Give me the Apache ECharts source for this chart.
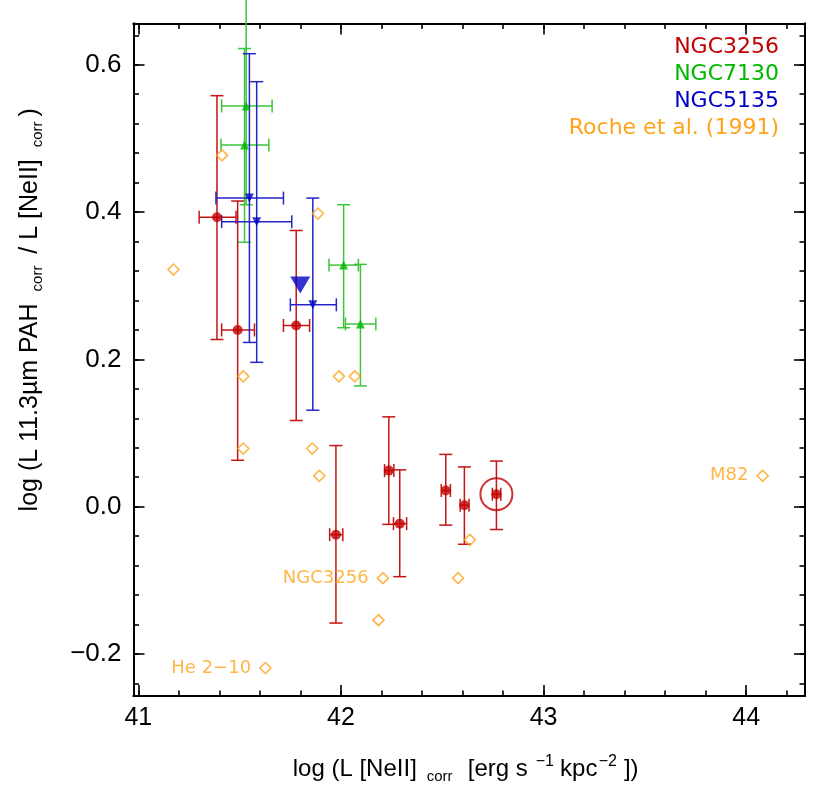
<!DOCTYPE html>
<html><head><meta charset="utf-8">
<script src="https://cdn.jsdelivr.net/npm/echarts@6/dist/echarts.min.js"></script>
<style>html,body{margin:0;padding:0;background:#fff}#c{width:830px;height:792px}</style>
</head><body><div id="c"></div>
<script>
// ---- data: [x, y, xLow, xHigh, yLow, yHigh] ----
const ngc3256 = [
 [41.388, 0.393, 41.300, 41.482, 0.227, 0.558],
 [41.490, 0.240, 41.411, 41.573, 0.063, 0.415],
 [41.779, 0.246, 41.716, 41.845, 0.117, 0.375],
 [41.975, -0.038, 41.944, 42.009, -0.158, 0.083],
 [42.236, 0.049, 42.215, 42.261, -0.024, 0.122],
 [42.290, -0.023, 42.259, 42.324, -0.095, 0.050],
 [42.517, 0.022, 42.495, 42.540, -0.025, 0.071],
 [42.609, 0.002, 42.588, 42.632, -0.051, 0.054],
 [42.767, 0.017, 42.747, 42.789, -0.031, 0.062]
];
const ngc3256Nucleus = [[42.767, 0.017]];
const ngc7130 = [
 [41.532, 0.544, 41.411, 41.660, 0.410, 0.690],
 [41.524, 0.491, 41.408, 41.644, 0.359, 0.622],
 [42.013, 0.328, 41.941, 42.086, 0.243, 0.410],
 [42.096, 0.248, 42.022, 42.172, 0.164, 0.329]
];
const ngc5135 = [
 [41.548, 0.419, 41.383, 41.716, 0.223, 0.615],
 [41.584, 0.387, 41.411, 41.757, 0.196, 0.577],
 [41.861, 0.274, 41.750, 41.977, 0.131, 0.419]
];
const ngc5135Total = [[41.799, 0.301]];
const rocheX = [41.173, 41.413, 41.518, 41.518, 41.886, 41.990, 42.068, 41.858, 41.893, 42.207, 42.185, 42.578, 42.636, 44.081, 41.627];
const rocheY = [0.322, 0.477, 0.177, 0.079, 0.398, 0.177, 0.177, 0.079, 0.042, -0.097, -0.154, -0.097, -0.045, 0.042, -0.219];
const rocheNames = ['', '', '', '', '', '', '', '', '', 'NGC3256', '', '', '', 'M82', 'He 2\u221210'];
const xMajorTicks = [41, 42, 43, 44];
const yMajorTicks = [-0.2, 0.0, 0.2, 0.4, 0.6];
const yTickLabels = ['\u22120.2', '0.0', '0.2', '0.4', '0.6'];

const X_MIN = 40.976, X_MAX = 44.290, Y_MIN = -0.257, Y_MAX = 0.656;
const xMinorTicks = []; for (let i = 0; i <= 16; i++) xMinorTicks.push(+(41 + 0.2 * i).toFixed(2));
const yMinorTicks = []; for (let i = 0; i <= 22; i++) yMinorTicks.push(+(-0.24 + 0.04 * i).toFixed(2));

const RED = '#c20000', GREEN = '#00b800', BLUE = '#0000c4', ORANGE = '#ffa31a';
const FONT = 'Liberation Sans';

function axisDef(pos, min, max, values, len, withLabels, fmt) {
  return {
    type: 'value', position: pos, min: min, max: max,
    axisLine: {show: true, onZero: false, lineStyle: {color: '#000', width: 2}},
    axisTick: {show: true, inside: true, length: len, customValues: values, lineStyle: {color: '#000', width: 1.6}},
    axisLabel: {show: withLabels, customValues: values, margin: 12, color: '#000', fontSize: 26, fontFamily: FONT,
      formatter: fmt},
    splitLine: {show: false}, minorTick: {show: false}
  };
}

const xFmt = v => String(Math.round(v));
const yFmt = v => { const i = yMajorTicks.findIndex(t => Math.abs(t - v) < 1e-6); return i >= 0 ? yTickLabels[i] : ''; };

const xAxes = [
  axisDef('bottom', X_MIN, X_MAX, xMajorTicks, 11, true, xFmt),
  axisDef('top', X_MIN, X_MAX, xMajorTicks, 11, false, xFmt),
  axisDef('bottom', X_MIN, X_MAX, xMinorTicks, 5.5, false, xFmt),
  axisDef('top', X_MIN, X_MAX, xMinorTicks, 5.5, false, xFmt)
];
xAxes[0].axisLabel.margin = 10;
xAxes[0].axisLabel.fontSize = 25;
xAxes[0].name = '{a|log (L [NeII]}{sub|corr}{b|[erg s}{sup|\u22121}{c|kpc}{sup2|\u22122}{d|])}';
xAxes[0].nameLocation = 'middle';
xAxes[0].nameGap = 58;
const base = {fontSize: 24, fontFamily: FONT, color: '#000', lineHeight: 30, align: 'left', verticalAlign: 'middle'};
const subS = {fontSize: 15, fontFamily: FONT, color: '#000', verticalAlign: 'bottom', lineHeight: 15, align: 'left'};
const supS = {fontSize: 16, fontFamily: FONT, color: '#000', verticalAlign: 'top', lineHeight: 16, align: 'left'};
xAxes[0].nameTextStyle = {fontSize: 24, fontFamily: FONT, color: '#000', lineHeight: 30, rich: {
  a: Object.assign({}, base, {width: 134}),
  sub: Object.assign({}, subS, {width: 38}),
  b: Object.assign({}, base, {width: 66, align: 'right'}),
  sup: Object.assign({}, supS, {width: 28}),
  c: Object.assign({}, base, {width: 40, align: 'right'}),
  sup2: Object.assign({}, supS, {width: 18}),
  d: Object.assign({}, base, {width: 29})
}};

const yAxes = [
  axisDef('left', Y_MIN, Y_MAX, yMajorTicks, 11, true, yFmt),
  axisDef('right', Y_MIN, Y_MAX, yMajorTicks, 11, false, yFmt),
  axisDef('left', Y_MIN, Y_MAX, yMinorTicks, 5.5, false, yFmt),
  axisDef('right', Y_MIN, Y_MAX, yMinorTicks, 5.5, false, yFmt)
];
yAxes[0].name = 'log (L 11.3\u00b5m PAH {sub|corr} / L [NeII] {sub|corr})';
yAxes[0].nameLocation = 'middle';
yAxes[0].nameRotate = 90;
yAxes[0].nameGap = 88;
yAxes[0].nameTextStyle = {fontSize: 25, fontFamily: FONT, color: '#000', lineHeight: 30, padding: [0, 0, 0, 100], rich: {
  sub: {fontSize: 15, fontFamily: FONT, color: '#000', verticalAlign: 'bottom', lineHeight: 15, padding: [0, 5, 0, 5]}
}};

function errRender(color, cap) {
  return function (params, api) {
    const x = api.value(0), y = api.value(1);
    const pYlo = api.coord([x, api.value(4)]), pYhi = api.coord([x, api.value(5)]);
    const pXlo = api.coord([api.value(2), y]), pXhi = api.coord([api.value(3), y]);
    const st = {stroke: color, lineWidth: 1.5, fill: null};
    const L = (x1, y1, x2, y2) => ({type: 'line', shape: {x1, y1, x2, y2}, style: st});
    return {type: 'group', children: [
      L(pYlo[0], pYlo[1], pYhi[0], pYhi[1]),
      L(pYlo[0] - cap, pYlo[1], pYlo[0] + cap, pYlo[1]),
      L(pYhi[0] - cap, pYhi[1], pYhi[0] + cap, pYhi[1]),
      L(pXlo[0], pXlo[1], pXhi[0], pXhi[1]),
      L(pXlo[0], pXlo[1] - cap, pXlo[0], pXlo[1] + cap),
      L(pXhi[0], pXhi[1] - cap, pXhi[0], pXhi[1] + cap)
    ]};
  };
}

const rocheData = rocheX.map((x, i) => ({value: [x, rocheY[i]], name: rocheNames[i]}));

const chart = echarts.init(document.getElementById('c'), null, {renderer: 'canvas'});
chart.setOption({
  animation: false,
  backgroundColor: '#fff',
  grid: {left: 133.5, right: 25, top: 23.5, bottom: 96, containLabel: false, outerBoundsMode: 'none'},
  xAxis: xAxes,
  yAxis: yAxes,
  legend: {
    orient: 'vertical', right: 46, top: 36, align: 'right', icon: 'none', itemWidth: 0, itemHeight: 22, itemGap: 5,
    padding: 0, selectedMode: false,
    textStyle: {fontSize: 22, fontFamily: 'DejaVu Sans', lineHeight: 22},
    data: [
      {name: 'NGC3256', textStyle: {color: RED}},
      {name: 'NGC7130', textStyle: {color: GREEN}},
      {name: 'NGC5135', textStyle: {color: BLUE}},
      {name: 'Roche et al. (1991)', textStyle: {color: ORANGE}}
    ]
  },
  series: [
    {name: 'NGC3256', type: 'custom', renderItem: errRender('#c41414', 6.5), data: ngc3256, clip: false, z: 2,
      encode: {x: 0, y: 1}},
    {name: 'NGC7130', type: 'custom', renderItem: errRender('#3cc43c', 6.5), data: ngc7130, clip: false, z: 2,
      encode: {x: 0, y: 1}},
    {name: 'NGC5135', type: 'custom', renderItem: errRender('#2424c8', 6.5), data: ngc5135, clip: false, z: 2,
      encode: {x: 0, y: 1}},
    {name: 'Roche et al. (1991)', type: 'scatter', data: rocheData, symbol: 'diamond', symbolSize: 11, z: 3,
      itemStyle: {color: 'transparent', borderColor: ORANGE, borderWidth: 1.6},
      label: {show: true, position: 'left', distance: 8, formatter: '{b}', color: ORANGE, fontSize: 18, fontFamily: 'DejaVu Sans'}},
    {name: 'NGC3256', type: 'scatter', data: ngc3256.map(d => [d[0], d[1]]), symbol: 'circle', symbolSize: 10, z: 4,
      itemStyle: {color: RED}},
    {name: 'NGC3256', type: 'scatter', data: ngc3256Nucleus, symbol: 'circle', symbolSize: 32, z: 4,
      itemStyle: {color: 'transparent', borderColor: RED, borderWidth: 2}},
    {name: 'NGC7130', type: 'scatter', data: ngc7130.map(d => [d[0], d[1]]), symbol: 'triangle', symbolSize: 9, z: 4,
      itemStyle: {color: GREEN}},
    {name: 'NGC5135', type: 'scatter', data: ngc5135.map(d => [d[0], d[1]]), symbol: 'triangle', symbolRotate: 180, symbolSize: 9, z: 4,
      itemStyle: {color: BLUE}},
    {name: 'NGC5135', type: 'scatter', data: ngc5135Total, symbol: 'triangle', symbolRotate: 180, symbolSize: [20, 17], z: 4,
      itemStyle: {color: BLUE}}
  ]
});
</script></body></html>
